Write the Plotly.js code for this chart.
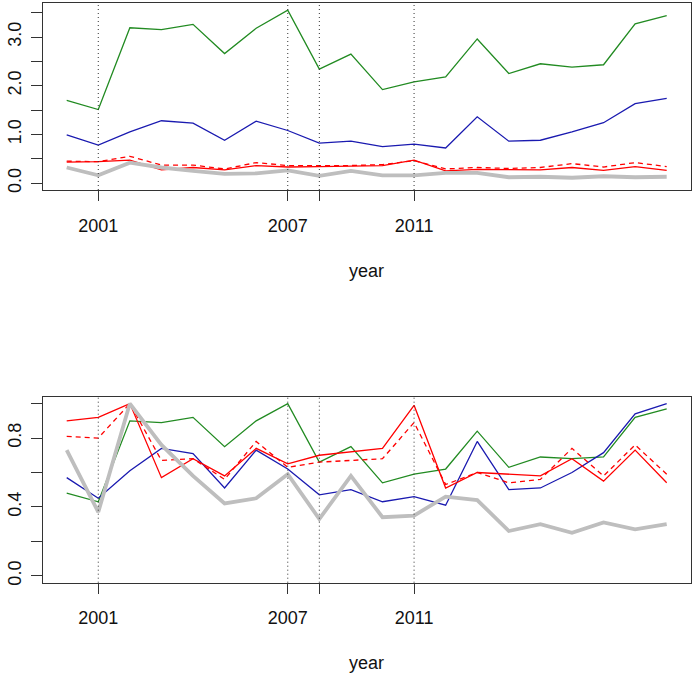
<!DOCTYPE html>
<html>
<head>
<meta charset="utf-8">
<script src="https://cdn.plot.ly/plotly-3.0.1.min.js"></script>
<style>html,body{margin:0;padding:0;background:#fff}#plot{width:694px;height:677px}</style>
</head>
<body>
<div id="plot"></div>
<script>
var years = [2000,2001,2002,2003,2004,2005,2006,2007,2008,2009,2010,2011,2012,2013,2014,2015,2016,2017,2018,2019];
var markYears = [2001,2007,2008,2011];
var markLabels = ['2001','2007','','2011'];

// top panel (absolute values)
var topGreen  = [1.70,1.51,3.19,3.15,3.26,2.66,3.18,3.55,2.34,2.65,1.92,2.08,2.18,2.96,2.25,2.45,2.38,2.43,3.27,3.44];
var topBlue   = [0.99,0.78,1.05,1.28,1.23,0.88,1.27,1.08,0.82,0.86,0.75,0.80,0.72,1.36,0.86,0.88,1.05,1.24,1.63,1.74];
var topRed    = [0.43,0.44,0.47,0.27,0.32,0.27,0.36,0.33,0.34,0.35,0.36,0.47,0.25,0.28,0.28,0.27,0.32,0.26,0.34,0.26];
var topRedDash= [0.45,0.44,0.55,0.37,0.37,0.29,0.42,0.36,0.36,0.36,0.38,0.46,0.29,0.32,0.30,0.32,0.40,0.33,0.42,0.34];
var topGray   = [0.32,0.16,0.42,0.32,0.25,0.19,0.20,0.26,0.15,0.25,0.16,0.16,0.21,0.21,0.12,0.13,0.11,0.14,0.12,0.13];

// bottom panel (relative values)
var botGreen  = [0.48,0.43,0.90,0.89,0.92,0.75,0.90,1.00,0.66,0.75,0.54,0.59,0.62,0.84,0.63,0.69,0.68,0.69,0.92,0.97];
var botBlue   = [0.57,0.45,0.61,0.74,0.71,0.51,0.73,0.62,0.47,0.50,0.43,0.46,0.41,0.78,0.50,0.51,0.60,0.715,0.94,1.00];
var botRed    = [0.90,0.92,1.00,0.57,0.68,0.58,0.74,0.65,0.70,0.72,0.74,0.99,0.51,0.60,0.59,0.58,0.68,0.55,0.73,0.54];
var botRedDash= [0.81,0.80,1.00,0.67,0.68,0.56,0.78,0.63,0.66,0.67,0.68,0.89,0.53,0.60,0.54,0.56,0.74,0.58,0.76,0.59];
var botGray   = [0.73,0.37,1.00,0.76,0.58,0.42,0.45,0.59,0.33,0.58,0.34,0.35,0.46,0.44,0.26,0.30,0.25,0.31,0.27,0.30];

var topTicks = [0,0.5,1,1.5,2,2.5,3,3.5];
var topTickText = ['0.0','','1.0','','2.0','','3.0',''];
var botTicks = [0,0.2,0.4,0.6,0.8,1.0];
var botTickText = ['0.0','','0.4','','0.8',''];

var GREEN = '#228B22', BLUE = '#1A1AB0', RED = '#FF0000', GRAY = '#BEBEBE';
var W = 694, H = 677;

function tr(y, col, width, dash, xa, ya) {
  return {x: years, y: y, type: 'scatter', mode: 'lines', xaxis: xa, yaxis: ya,
          line: {color: col, width: width, dash: dash || 'solid'}, hoverinfo: 'skip', showlegend: false};
}
var data = [
  tr(topGreen, GREEN, 1.3, null, 'x', 'y'),
  tr(topBlue, BLUE, 1.3, null, 'x', 'y'),
  tr(topRed, RED, 1.3, null, 'x', 'y'),
  tr(topRedDash, RED, 1.3, '5px,4px', 'x', 'y'),
  tr(topGray, GRAY, 3.8, null, 'x', 'y'),
  tr(botGreen, GREEN, 1.3, null, 'x2', 'y2'),
  tr(botBlue, BLUE, 1.3, null, 'x2', 'y2'),
  tr(botRed, RED, 1.3, null, 'x2', 'y2'),
  tr(botRedDash, RED, 1.3, '5px,4px', 'x2', 'y2'),
  tr(botGray, GRAY, 3.8, null, 'x2', 'y2')
];

var FONT = {family: 'Liberation Sans, Arial, sans-serif', size: 18, color: '#111'};
var xl = 42.7 / W, xr = 690.7 / W;

function xax(anchor) {
  return {domain: [xl, xr], anchor: anchor, range: [1999.24, 2019.76],
    tickmode: 'array', tickvals: markYears, ticktext: markLabels,
    ticks: 'outside', ticklen: 10, tickwidth: 1, tickcolor: '#333',
    showline: true, linecolor: '#333', linewidth: 1, mirror: true,
    showgrid: false, zeroline: false, tickfont: FONT, ticklabelstandoff: 9};
}
function yax(anchor, dom, rng, tv, tt) {
  return {domain: dom, anchor: anchor, range: rng,
    tickmode: 'array', tickvals: tv, ticktext: tt, tickangle: -90,
    ticks: 'outside', ticklen: 11, tickwidth: 1, tickcolor: '#333',
    showline: true, linecolor: '#333', linewidth: 1, mirror: true,
    showgrid: false, zeroline: false, tickfont: FONT, ticklabelstandoff: 3};
}

var shapes = [];
markYears.forEach(function (yr) {
  ['y', 'y2'].forEach(function (ya, i) {
    shapes.push({type: 'line', xref: i === 0 ? 'x' : 'x2', yref: ya + ' domain',
      x0: yr, x1: yr, y0: 0, y1: 1, line: {color: '#333', width: 1, dash: '1px,3px'}});
  });
});

var layout = {
  width: W, height: H, margin: {l: 0, r: 0, t: 0, b: 0},
  paper_bgcolor: '#fff', plot_bgcolor: '#fff', showlegend: false,
  font: FONT,
  xaxis: xax('y'),
  yaxis: yax('x', [(H - 190) / H, (H - 3.3) / H], [-0.142, 3.692], topTicks, topTickText),
  xaxis2: xax('y2'),
  yaxis2: yax('x2', [(H - 582.7) / H, (H - 396.7) / H], [-0.04, 1.04], botTicks, botTickText),
  shapes: shapes,
  annotations: [
    {text: 'year', xref: 'paper', yref: 'paper', x: 366.7 / W, y: (H - 270.7) / H,
     xanchor: 'center', yanchor: 'middle', showarrow: false, font: FONT},
    {text: 'year', xref: 'paper', yref: 'paper', x: 366.7 / W, y: (H - 663) / H,
     xanchor: 'center', yanchor: 'middle', showarrow: false, font: FONT}
  ]
};

Plotly.newPlot('plot', data, layout, {staticPlot: true, displayModeBar: false});
</script>
</body>
</html>
